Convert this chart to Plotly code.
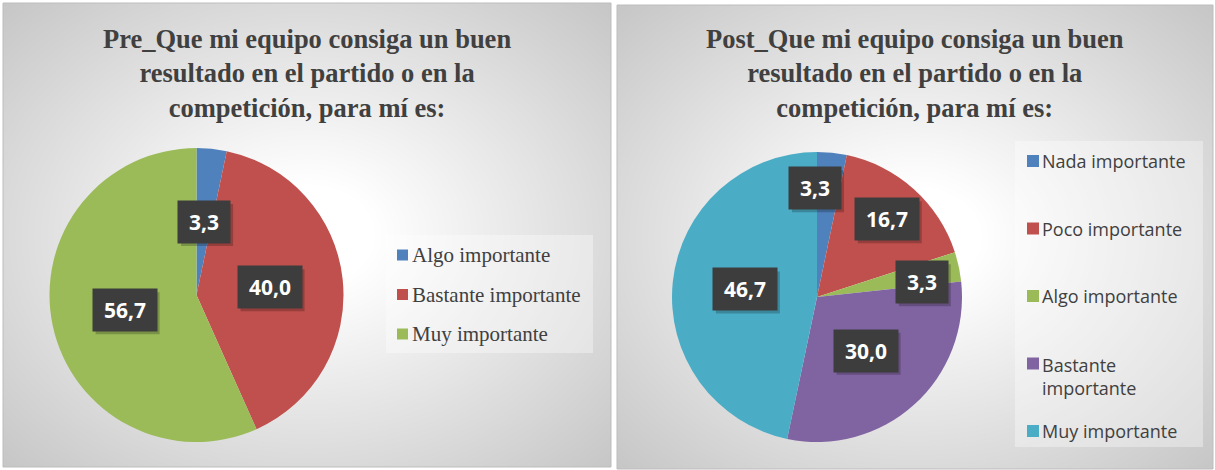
import math
import textwrap

import numpy as np
import plotly.graph_objects as go

# ── Data ───────────────────────────────────────────────────────────────────────
PRE_TITLE = "Pre_Que mi equipo consiga un buen<br>resultado en el partido o en la<br>competición, para mí es:"
POST_TITLE = "Post_Que mi equipo consiga un buen<br>resultado en el partido o en la<br>competición, para mí es:"

PRE_LABELS = ["Algo importante", "Bastante importante", "Muy importante"]
PRE_VALUES = [3.3, 40.0, 56.7]

POST_LABELS = ["Nada importante", "Poco importante", "Algo importante",
               "Bastante importante", "Muy importante"]
POST_VALUES = [3.3, 16.7, 3.3, 30.0, 46.7]

# ── Style ──────────────────────────────────────────────────────────────────────
W, H = 1215, 470
COLORS = {
    "Nada importante": "#4f81bd",
    "Poco importante": "#c0504d",
    "Algo importante": "#9bbb59",
    "Bastante importante": "#8064a2",
    "Muy importante": "#4bacc6",
}
PRE_COLORS = ["#4f81bd", "#c0504d", "#9bbb59"]
TEXT = "#404040"
BOX = "#3d3d3d"

LEFT_PANEL = (3, 3, 611, 467)
RIGHT_PANEL = (617, 5, 1213, 469)
LEFT_PIE = (196.5, 295, 147)    # centre x, centre y, radius (px)
RIGHT_PIE = (817, 297, 145)

# label placement (fraction of radius, angle nudge in degrees)
PRE_LBL_R = [0.5, 0.5, 0.5]
PRE_LBL_DA = [0, 0, 0]
POST_LBL_R = [0.75, 0.72, 0.73, 0.5, 0.5]
POST_LBL_DA = [-7, 0, 4, 0, 0]


def fx(x):
    return x / W


def fy(y):
    return 1 - y / H


def fmt(v):
    return f"{v:.1f}".replace(".", ",")


fig = go.Figure()

# radial grey gradient behind each chart
n = 41
u = np.linspace(-1, 1, n)
uu, vv = np.meshgrid(u, u)
grad = np.sqrt(uu ** 2 + vv ** 2) / math.sqrt(2)
for i, panel in enumerate([LEFT_PANEL, RIGHT_PANEL], start=1):
    x0, y0, x1, y1 = panel
    fig.add_trace(go.Heatmap(
        z=grad, x=np.linspace(0, 1, n), y=np.linspace(0, 1, n),
        zmin=0, zmax=1, zsmooth="best", showscale=False, hoverinfo="skip",
        colorscale=[[0, "#ffffff"], [0.15, "#ffffff"], [1, "#c6c6c6"]],
        xaxis="x" if i == 1 else "x2", yaxis="y" if i == 1 else "y2",
    ))
    sfx = "" if i == 1 else "2"
    fig.update_layout(**{
        f"xaxis{sfx}": dict(domain=[fx(x0), fx(x1)], range=[0, 1], visible=False, fixedrange=True),
        f"yaxis{sfx}": dict(domain=[fy(y1), fy(y0)], range=[0, 1], visible=False, fixedrange=True),
    })


def add_pie(labels, values, colors, geom):
    cx, cy, r = geom
    fig.add_trace(go.Pie(
        labels=labels, values=values, sort=False, direction="clockwise", rotation=0,
        marker=dict(colors=colors, line=dict(width=0)),
        textinfo="none", showlegend=False,
        domain=dict(x=[fx(cx - r), fx(cx + r)], y=[fy(cy + r), fy(cy - r)]),
    ))


add_pie(PRE_LABELS, PRE_VALUES, PRE_COLORS, LEFT_PIE)
add_pie(POST_LABELS, POST_VALUES, [COLORS[l] for l in POST_LABELS], RIGHT_PIE)

annotations = []
shapes = []


def data_labels(values, geom, ratios, nudges):
    cx, cy, r = geom
    total = sum(values)
    cum = 0
    for v, k, da in zip(values, ratios, nudges):
        ang = math.radians(360 * (cum + v / 2) / total + da)
        cum += v
        x = cx + k * r * math.sin(ang)
        y = cy - k * r * math.cos(ang)
        txt = fmt(v)
        tw = sum(6.0 if c == "," else 12.0 for c in txt) + 8
        # soft drop shadow under the label box
        bw, bh = tw + 14, 28 + 14
        shapes.append(dict(type="rect", xref="paper", yref="paper", layer="above",
                           x0=fx(x - bw / 2 + 3), x1=fx(x + bw / 2 + 3),
                           y0=fy(y + bh / 2 + 3), y1=fy(y - bh / 2 + 3),
                           fillcolor="rgba(0,0,0,0.22)", line=dict(width=0)))
        annotations.append(dict(
            x=fx(x), y=fy(y), xref="paper", yref="paper", text=txt,
            showarrow=False, width=tw, height=28, borderpad=7,
            xanchor="center", yanchor="middle", bgcolor=BOX,
            font=dict(family="Open Sans", size=21, color="white", weight="bold"),
        ))


data_labels(PRE_VALUES, LEFT_PIE, PRE_LBL_R, PRE_LBL_DA)
data_labels(POST_VALUES, RIGHT_PIE, POST_LBL_R, POST_LBL_DA)

# titles
for panel, title in [(LEFT_PANEL, PRE_TITLE), (RIGHT_PANEL, POST_TITLE)]:
    annotations.append(dict(
        x=fx((panel[0] + panel[2]) / 2), y=fy(22), xref="paper", yref="paper",
        text=f"<b>{title}</b>", showarrow=False, xanchor="center", yanchor="top",
        align="center", font=dict(family="Liberation Serif", size=26.5, color=TEXT),
    ))


def legend(labels, colors, box, sq_x, text_x, y_first, step, font, sq, wrap=None):
    bx0, by0, bx1, by1 = box
    shapes.append(dict(type="rect", xref="paper", yref="paper",
                       x0=fx(bx0), x1=fx(bx1), y0=fy(by1), y1=fy(by0),
                       fillcolor="rgba(255,255,255,0.35)", line=dict(width=0), layer="above"))
    for i, (lab, col) in enumerate(zip(labels, colors)):
        y = y_first + i * step
        shapes.append(dict(type="rect", xref="paper", yref="paper",
                           x0=fx(sq_x), x1=fx(sq_x + sq), y0=fy(y + sq / 2), y1=fy(y - sq / 2),
                           fillcolor=col, line=dict(width=0), layer="above"))
        lines = textwrap.wrap(lab, wrap) if wrap else [lab]
        annotations.append(dict(
            x=fx(text_x), y=fy(y + (len(lines) - 1) * font["size"] * 0.7),
            xref="paper", yref="paper", text="<br>".join(lines), showarrow=False,
            xanchor="left", yanchor="middle", align="left", font=font,
        ))


legend(PRE_LABELS, PRE_COLORS, (386, 235, 593, 353), 397, 410, 255, 39.5,
       dict(family="Liberation Serif", size=21, color=TEXT), 11)
legend(POST_LABELS, [COLORS[l] for l in POST_LABELS], (1015, 141, 1203, 447), 1027, 1040,
       161, 67.5, dict(family="Open Sans", size=18, color=TEXT), 12, wrap=16)

# panel borders
for x0, y0, x1, y1 in [LEFT_PANEL, RIGHT_PANEL]:
    shapes.append(dict(type="rect", xref="paper", yref="paper",
                       x0=fx(x0), x1=fx(x1), y0=fy(y1), y1=fy(y0),
                       line=dict(color="#bdbdbd", width=1), layer="above"))

fig.update_layout(
    width=W, height=H, margin=dict(l=0, r=0, t=0, b=0),
    paper_bgcolor="white", plot_bgcolor="white",
    annotations=annotations, shapes=shapes, showlegend=False,
)

fig.write_html("out.html", config={"displayModeBar": False},
               post_script="document.body.style.margin = '0px';")
